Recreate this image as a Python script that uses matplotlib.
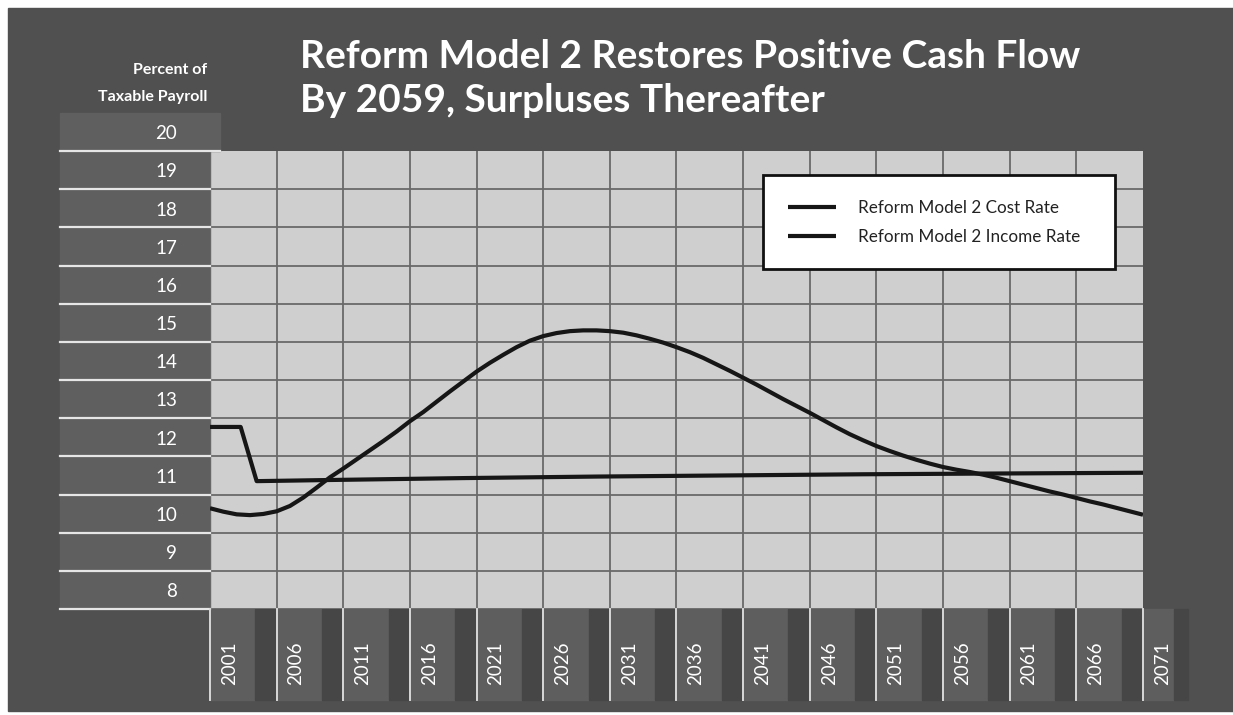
import numpy as np
import matplotlib.pyplot as plt
from matplotlib.patches import Rectangle

# values (percent of taxable payroll)
years = list(range(2001, 2072))
cost_rate = [10.14, 10.05, 9.98, 9.96, 9.99, 10.06, 10.2, 10.42, 10.68, 10.95,
             11.18, 11.42, 11.66, 11.9, 12.15, 12.42, 12.66, 12.93, 13.2, 13.46,
             13.72, 13.95, 14.16, 14.36, 14.53, 14.65, 14.73, 14.78, 14.8, 14.8,
             14.78, 14.74, 14.67, 14.58, 14.48, 14.36, 14.23, 14.08, 13.91, 13.74,
             13.56, 13.38, 13.19, 13.0, 12.82, 12.64, 12.45, 12.26, 12.08, 11.92,
             11.77, 11.64, 11.52, 11.41, 11.31, 11.22, 11.15, 11.09, 11.02, 10.94,
             10.85, 10.76, 10.67, 10.58, 10.5, 10.41, 10.32, 10.24, 10.15, 10.06,
             9.97]
income_years = [2001, 2003.3, 2004.5, 2010, 2020, 2030, 2040, 2050, 2060, 2071]
income_rate = [12.27, 12.27, 10.85, 10.88, 10.93, 10.97, 11.0, 11.03, 11.05, 11.07]

y_ticks = list(range(8, 21))
x_ticks = list(range(2001, 2072, 5))
series_names = ["Reform Model 2 Cost Rate", "Reform Model 2 Income Rate"]
title_lines = ["Reform Model 2 Restores Positive Cash Flow",
               "By 2059, Surpluses Thereafter"]

W, H = 1233, 715
fig = plt.figure(figsize=(W / 100, H / 100), dpi=100, facecolor="white")

# background panel in pixel coordinates
bg = fig.add_axes([0, 0, 1, 1], zorder=-10)
bg.set_xlim(0, W)
bg.set_ylim(H, 0)
bg.axis("off")
bg.add_patch(Rectangle((8, 8), W - 8, 703, color="#505050"))
# darker band at the right edge
grad = np.linspace(0, 1, 60).reshape(1, -1)
bg.imshow(grad, extent=(1150, W, 711, 8), cmap="Greys", vmin=-3, vmax=3.5,
          aspect="auto", alpha=0.6)
bg.set_xlim(0, W)
bg.set_ylim(H, 0)

# main plot area
ax = fig.add_axes([210 / W, 1 - 609 / H, 933 / W, 458 / H])
ax.set_facecolor("#cfcfcf")
ax.set_xlim(2001, 2071)
ax.set_ylim(7.5, 19.5)
for s in ax.spines.values():
    s.set_visible(False)
ax.set_xticks([])
ax.set_yticks([])

for yr in x_ticks[:-1]:
    ax.axvline(yr, color="#6a6a6a", lw=1.3, zorder=1)
for k in y_ticks[:-1]:
    ax.axhline(k - 0.5, color="#6a6a6a", lw=1.3, zorder=1)

# y label boxes at the left
ytr = ax.get_yaxis_transform()
box_l = (60 - 210) / 933
for k in y_ticks:
    right = 0.0107 if k == 20 else 0
    ax.add_patch(Rectangle((box_l, k - 0.5), right - box_l, 1, transform=ytr,
                           color="#5f5f5f", clip_on=False, zorder=0))
    ax.plot([box_l, right], [k - 0.5, k - 0.5], transform=ytr, color="#e6e6e6",
            lw=1.6, clip_on=False, zorder=2)
    ax.text(-0.0354, k - 0.05, str(k), transform=ytr, ha="right", va="center",
            color="white", fontsize=13.5, family="Lato", clip_on=False)

# x label columns at the bottom
xtr = ax.get_xaxis_transform()
col_b = (609 - 700) / 458
for yr in x_ticks:
    w = 3.4 if yr == x_ticks[-1] else 5
    ax.add_patch(Rectangle((yr, col_b), w * 0.68, -col_b, transform=xtr,
                           color="#5e5e5e", clip_on=False, zorder=0))
    ax.add_patch(Rectangle((yr + w * 0.68, col_b), w * 0.32, -col_b,
                           transform=xtr, color="#464646", clip_on=False, zorder=0))
    ax.plot([yr, yr], [col_b, 0], transform=xtr, color="#d8d8d8", lw=1.4,
            clip_on=False, zorder=2)
    ax.text(yr + 1.45, -0.118, str(yr), transform=xtr, rotation=90,
            ha="center", va="center", color="white", fontsize=13.5,
            family="Lato", clip_on=False)

# the two series
ax.plot(years, cost_rate, color="#161616", lw=3, solid_capstyle="butt",
        label=series_names[0], zorder=4)
ax.plot(income_years, income_rate, color="#161616", lw=3,
        solid_capstyle="butt", label=series_names[1], zorder=4)

leg = ax.legend(loc="upper left", bbox_to_anchor=(0.593, 0.749, 0.377, 0.1986),
                mode="expand", borderaxespad=0, fancybox=False, framealpha=1,
                facecolor="white", edgecolor="#111111",
                prop={"family": "Lato", "size": 12.3}, handlelength=2.8,
                handletextpad=1.3, borderpad=1.45, labelspacing=0.75)
leg.get_frame().set_linewidth(2)
for t in leg.get_texts():
    t.set_color("#222222")

# titles
fig.text(300 / W, 1 - 56 / H, title_lines[0], color="white", fontsize=28,
         fontweight="bold", family="Lato", ha="left", va="center")
fig.text(300 / W, 1 - 101 / H, title_lines[1], color="white", fontsize=28,
         fontweight="bold", family="Lato", ha="left", va="center")
fig.text(207 / W, 1 - 70 / H, "Percent of", color="white", fontsize=11.5,
         fontweight="bold", family="Lato", ha="right", va="center")
fig.text(207 / W, 1 - 97 / H, "Taxable Payroll", color="white", fontsize=11.5,
         fontweight="bold", family="Lato", ha="right", va="center")

fig.savefig("out.png", dpi=100, facecolor="white")
